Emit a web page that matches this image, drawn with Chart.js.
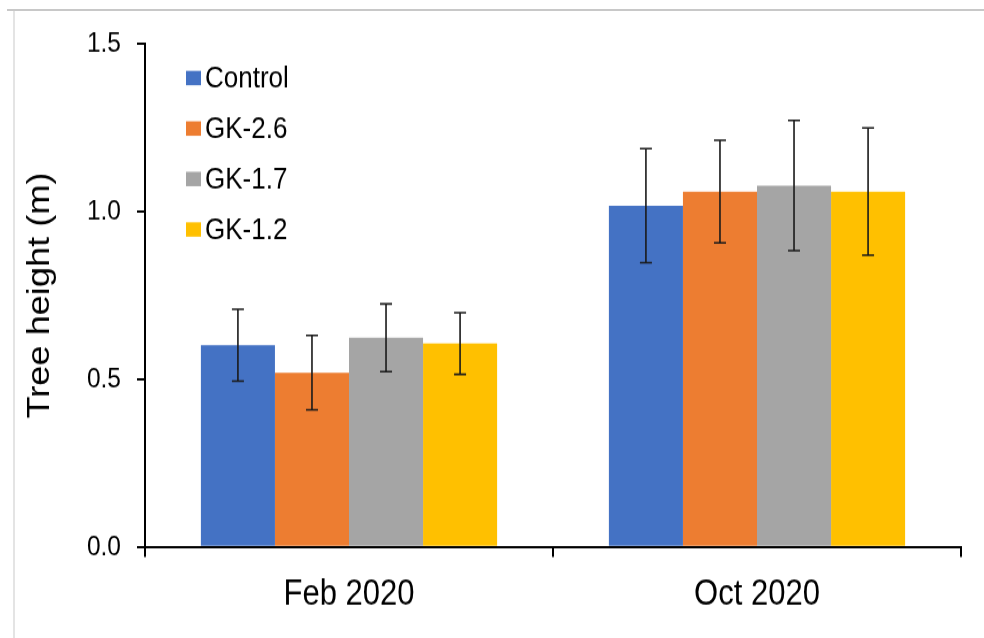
<!DOCTYPE html>
<html>
<head>
<meta charset="utf-8">
<script src="https://cdn.jsdelivr.net/npm/chart.js@4"></script>
<style>
  html, body { margin: 0; padding: 0; background: #fff; overflow: hidden; }
  #wrap { position: relative; width: 984px; height: 638px; overflow: hidden; }
  #stretch { position: absolute; left: 0; top: 0; width: 984px; height: 555px;
             transform: scaleY(1.14955); transform-origin: 0 0; }
  #frame { position: absolute; left: 13px; top: 9px; right: 0; bottom: 0;
           border-top: 2px solid #c8c8c8; border-left: 2px solid #e4e4e4; pointer-events: none; }
  #frameTop { position: absolute; left: 7px; top: 9px; width: 8px; height: 2px; background: #c8c8c8; }
</style>
</head>
<body>
<div id="wrap">
  <div id="stretch"><canvas id="c" width="984" height="555"></canvas></div>
  <div id="frame"></div>
  <div id="frameTop"></div>
</div>
<script>
const categories = ["Feb 2020", "Oct 2020"];
const seriesNames = ["Control", "GK-2.6", "GK-1.7", "GK-1.2"];
const seriesColors = ["#4472C4", "#ED7D31", "#A5A5A5", "#FFC000"];
const controlValues = [0.602, 1.018];
const gk26Values = [0.520, 1.060];
const gk17Values = [0.624, 1.078];
const gk12Values = [0.607, 1.060];
const controlErr = [0.107, 0.170];
const gk26Err = [0.111, 0.153];
const gk17Err = [0.101, 0.194];
const gk12Err = [0.092, 0.190];
const yTicks = [0, 0.5, 1.0, 1.5];
const yTitle = "Tree height (m)";

const allValues = [controlValues, gk26Values, gk17Values, gk12Values];
const allErrs = [controlErr, gk26Err, gk17Err, gk12Err];

const font = "'Liberation Sans', Arial, sans-serif";

const errorBarPlugin = {
  id: 'errorBars',
  afterDatasetsDraw(chart) {
    const ctx = chart.ctx;
    const y = chart.scales.y;
    ctx.save();
    ctx.strokeStyle = '#1a1a1a';
    ctx.lineWidth = 1.6;
    chart.data.datasets.forEach((ds, di) => {
      const meta = chart.getDatasetMeta(di);
      meta.data.forEach((bar, i) => {
        const v = ds.data[i], e = ds.errors[i];
        const x = bar.x;
        const yt = y.getPixelForValue(v + e);
        const yb = y.getPixelForValue(v - e);
        const cap = 6;
        ctx.beginPath();
        ctx.moveTo(x, yt); ctx.lineTo(x, yb);
        ctx.moveTo(x - cap, yt); ctx.lineTo(x + cap, yt);
        ctx.moveTo(x - cap, yb); ctx.lineTo(x + cap, yb);
        ctx.stroke();
      });
    });
    ctx.restore();
  }
};

const legendPlugin = {
  id: 'insideLegend',
  afterDraw(chart) {
    const ctx = chart.ctx;
    ctx.save();
    ctx.font = "26px " + font;
    ctx.textBaseline = 'middle';
    const x0 = 186, y0 = 67.9, step = 43.9, sqW = 15, sqH = 12.5;
    chart.data.datasets.forEach((ds, i) => {
      const cy = y0 + i * step;
      ctx.fillStyle = ds.backgroundColor;
      ctx.fillRect(x0, cy - sqH / 2, sqW, sqH);
      ctx.fillStyle = '#000';
      ctx.fillText(ds.label, x0 + 19, cy + 1);
    });
    ctx.restore();
  }
};

new Chart(document.getElementById('c'), {
  type: 'bar',
  data: {
    labels: categories,
    datasets: seriesNames.map((name, i) => ({
      label: name,
      data: allValues[i],
      errors: allErrs[i],
      backgroundColor: seriesColors[i],
      borderWidth: 0,
      barPercentage: 1.0,
      categoryPercentage: 0.726
    }))
  },
  options: {
    responsive: false,
    animation: false,
    devicePixelRatio: 1,
    layout: { padding: { top: 38.3, right: 23, left: 0, bottom: 0 } },
    plugins: { legend: { display: false }, tooltip: { enabled: false } },
    scales: {
      x: {
        grid: { drawOnChartArea: false, tickLength: 8.7, color: '#000', lineWidth: 2, offset: true },
        border: { color: '#000', width: 2 },
        ticks: { color: '#000', font: { size: 31, family: font }, padding: 14 },
        afterFit(scale) { scale.height = 79.2; }
      },
      y: {
        min: 0, max: 1.5,
        afterBuildTicks(scale) { scale.ticks = yTicks.map(v => ({ value: v })); },
        grid: { drawOnChartArea: false, tickLength: 8, color: '#000', lineWidth: 2 },
        border: { color: '#000', width: 2 },
        ticks: { color: '#000', font: { size: 24.5, family: font }, padding: 16,
                 callback: v => Number(v).toFixed(1) },
        title: { display: true, text: yTitle, color: '#000', font: { size: 31.5, family: font }, padding: { top: 21, bottom: 0 } },
        afterFit(scale) { scale.width = 145; }
      }
    }
  },
  plugins: [errorBarPlugin, legendPlugin]
});
</script>
</body>
</html>
